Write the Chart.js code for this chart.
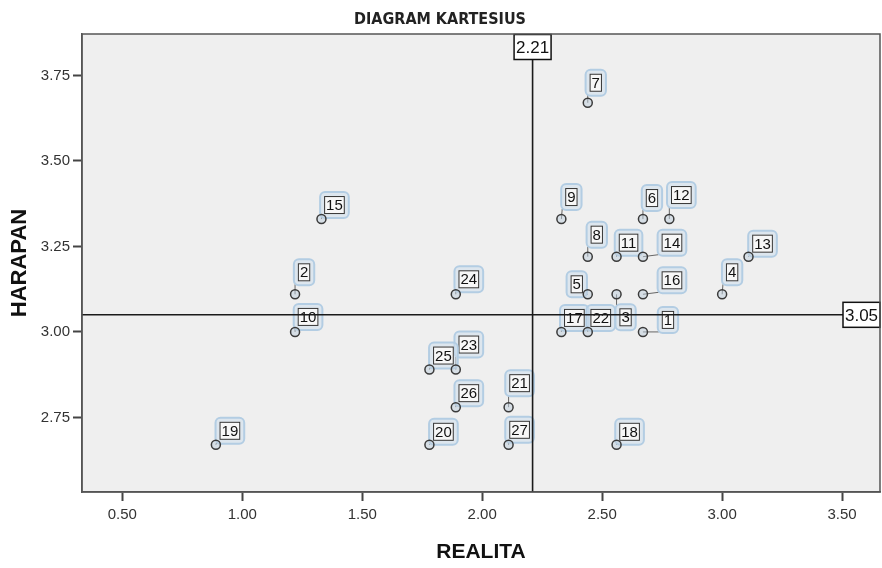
<!DOCTYPE html>
<html>
<head>
<meta charset="utf-8">
<title>Diagram Kartesius</title>
<script src="https://cdn.jsdelivr.net/npm/chart.js@4.4.1/dist/chart.umd.min.js"></script>
<style>
    html, body { margin: 0; padding: 0; background: #fff; }
    canvas { display: block; }
</style>
</head>
<body>
<canvas id="kartesius" width="882" height="568"></canvas>
<script>
// respondent numbers, realita (x) and harapan (y) averages
const itemNo   = [1, 2, 3, 4, 5, 6, 7, 8, 9, 10, 11, 12, 13, 14, 15, 16, 17, 18, 19, 20, 21, 22, 23, 24, 25, 26, 27];
const realita  = [2.67, 1.22, 2.56, 3.00, 2.44, 2.67, 2.44, 2.44, 2.33, 1.22, 2.56, 2.78, 3.11, 2.67, 1.33, 2.67, 2.33, 2.56, 0.89, 1.78, 2.11, 2.44, 1.89, 1.89, 1.78, 1.89, 2.11];
const harapan  = [3.00, 3.11, 3.11, 3.11, 3.11, 3.33, 3.67, 3.22, 3.33, 3.00, 3.22, 3.33, 3.22, 3.22, 3.33, 3.11, 3.00, 2.67, 2.67, 2.67, 2.78, 3.00, 2.89, 3.11, 2.89, 2.78, 2.67];
const xTicks   = [0.50, 1.00, 1.50, 2.00, 2.50, 3.00, 3.50];
const yTicks   = [2.75, 3.00, 3.25, 3.50, 3.75];
const meanRealita = 2.21;
const meanHarapan = 3.05;

// label placement (pixel offset of label box from its point)
const labelOffset = [
    [25, -12], [9, -22], [9, 23], [10, -22], [-11, -10], [9, -21], [8, -20], [9, -22], [10, -22],
    [13, -15], [12, -14], [12, -24], [14, -13], [29, -14], [13, -14], [29, -14], [13, -14], [13, -13],
    [14, -14], [14, -13], [11, -24], [13, -14], [13, -25], [13, -15], [14, -14], [13, -14], [11, -15]
];

const FONT = "'Liberation Sans', Arial, sans-serif";

const plotFrame = {
    id: 'plotFrame',
    beforeDraw(chart) {
        const { ctx, chartArea: a } = chart;
        ctx.save();
        ctx.fillStyle = '#efefef';
        ctx.fillRect(a.left, a.top, a.right - a.left, a.bottom - a.top);
        ctx.restore();
    },
    afterDraw(chart) {
        const { ctx, chartArea: a } = chart;
        ctx.save();
        ctx.strokeStyle = '#555';
        ctx.lineWidth = 1.5;
        ctx.strokeRect(a.left, a.top, a.right - a.left, a.bottom - a.top);
        ctx.restore();
    }
};

const pointLabels = {
    id: 'pointLabels',
    beforeDatasetsDraw(chart) {
        const { ctx } = chart;
        const pts = chart.getDatasetMeta(0).data;
        ctx.save();
        ctx.font = '15px ' + FONT;
        pts.forEach((p, i) => {
            const txt = String(itemNo[i]);
            const w = ctx.measureText(txt).width + 4;
            const h = 18;
            const cx = p.x + labelOffset[i][0];
            const cy = p.y + labelOffset[i][1];
            const l = cx - w / 2, t = cy - h / 2;

            // leader line
            const ex = Math.min(Math.max(p.x, l - 3), l + w + 3);
            const ey = Math.min(Math.max(p.y, t - 3), t + h + 3);
            ctx.strokeStyle = '#666';
            ctx.lineWidth = 1;
            ctx.beginPath(); ctx.moveTo(p.x, p.y); ctx.lineTo(ex, ey); ctx.stroke();

            // halo
            ctx.beginPath();
            ctx.roundRect(l - 4, t - 4, w + 8, h + 8, 5);
            ctx.fillStyle = 'rgba(205,222,236,0.55)';
            ctx.fill();
            ctx.strokeStyle = '#b3cde3';
            ctx.lineWidth = 2;
            ctx.stroke();

            // box
            ctx.fillStyle = '#f7f7f7';
            ctx.fillRect(l, t, w, h);
            ctx.strokeStyle = '#333';
            ctx.lineWidth = 1;
            ctx.strokeRect(l + 0.5, t + 0.5, w - 1, h - 1);

            ctx.fillStyle = '#111';
            ctx.textAlign = 'center';
            ctx.textBaseline = 'middle';
            ctx.fillText(txt, cx, cy + 1);
        });
        ctx.restore();
    }
};

const meanLines = {
    id: 'meanLines',
    afterDatasetsDraw(chart) {
        const { ctx, chartArea: a, scales: { x, y } } = chart;
        const px = x.getPixelForValue(meanRealita);
        const py = y.getPixelForValue(meanHarapan);
        ctx.save();
        ctx.strokeStyle = '#1a1a1a';
        ctx.lineWidth = 1.6;
        ctx.beginPath();
        ctx.moveTo(px, a.top); ctx.lineTo(px, a.bottom);
        ctx.moveTo(a.left, py); ctx.lineTo(a.right, py);
        ctx.stroke();

        ctx.font = '17px ' + FONT;
        ctx.textAlign = 'center';
        ctx.textBaseline = 'middle';
        const box = (txt, cx, cy) => {
            const w = 37, h = 25;
            ctx.fillStyle = '#fff';
            ctx.fillRect(cx - w / 2, cy - h / 2, w, h);
            ctx.strokeStyle = '#111';
            ctx.lineWidth = 1.5;
            ctx.strokeRect(cx - w / 2, cy - h / 2, w, h);
            ctx.fillStyle = '#111';
            ctx.fillText(txt, cx, cy + 1);
        };
        box(meanRealita.toFixed(2), px, a.top + 13);
        box(meanHarapan.toFixed(2), a.right - 18.5, py);
        ctx.restore();
    }
};

new Chart(document.getElementById('kartesius'), {
    type: 'scatter',
    data: {
        datasets: [{
            data: realita.map((v, i) => ({ x: v, y: harapan[i] })),
            pointRadius: 4.5,
            pointBorderWidth: 1.5,
            borderColor: '#3a3a3a',
            backgroundColor: 'rgba(190,205,220,0.5)'
        }]
    },
    options: {
        responsive: false,
        animation: false,
        layout: { autoPadding: false, padding: { left: 0, right: 2, top: 0, bottom: 0 } },
        plugins: {
            legend: { display: false },
            tooltip: { enabled: false },
            title: {
                display: true,
                text: 'DIAGRAM KARTESIUS',
                color: '#222',
                font: { family: "'Liberation Sans Narrow', 'DejaVu Sans Condensed', Arial, sans-serif", size: 16, weight: 'bold', lineHeight: 1 },
                padding: { top: 12, bottom: 6 }
            }
        },
        scales: {
            x: {
                type: 'linear',
                min: 0.332, max: 3.658,
                afterBuildTicks: s => { s.ticks = xTicks.map(v => ({ value: v })); },
                afterFit: s => { s.height = 76; s.paddingLeft = 0; s.paddingRight = 0; },
                ticks: { color: '#333', padding: 5, font: { family: FONT, size: 15 }, callback: v => v.toFixed(2) },
                grid: { drawOnChartArea: false, drawTicks: true, tickLength: 9, tickColor: '#444', tickWidth: 2 },
                border: { display: true, color: '#555', width: 1.5 },
                title: { display: true, text: 'REALITA', color: '#111', padding: { top: 0, bottom: 3 }, font: { family: FONT, size: 21, weight: 'bold' } }
            },
            y: {
                type: 'linear',
                min: 2.532, max: 3.871,
                afterBuildTicks: s => { s.ticks = yTicks.map(v => ({ value: v })); },
                afterFit: s => { s.width = 82; s.paddingTop = 0; s.paddingBottom = 0; },
                ticks: { color: '#333', padding: 3, font: { family: FONT, size: 15 }, callback: v => v.toFixed(2) },
                grid: { drawOnChartArea: false, drawTicks: true, tickLength: 9, tickColor: '#444', tickWidth: 2 },
                border: { display: true, color: '#555', width: 1.5 },
                title: { display: true, text: 'HARAPAN', color: '#111', padding: { top: 7, bottom: 0 }, font: { family: FONT, size: 22, weight: 'bold' } }
            }
        }
    },
    plugins: [plotFrame, pointLabels, meanLines]
});
</script>
</body>
</html>
